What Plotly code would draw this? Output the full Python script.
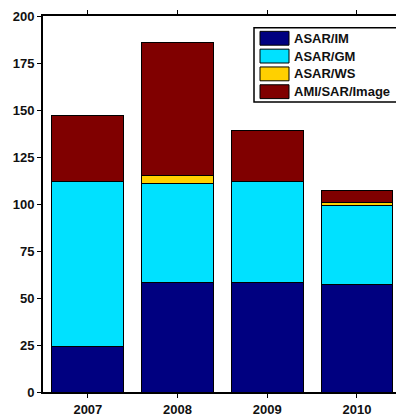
import plotly.graph_objects as go

years = ["2007", "2008", "2009", "2010"]
asar_im = [24, 58, 58, 57]
asar_gm = [88, 53, 54, 42]
asar_ws = [0, 4, 0, 2]
ami_sar_image = [35, 71, 27, 6]

series_names = ["ASAR/IM", "ASAR/GM", "ASAR/WS", "AMI/SAR/Image"]
series_values = [asar_im, asar_gm, asar_ws, ami_sar_image]
series_colors = ["#000080", "#00E1FF", "#FFD000", "#800000"]

y_ticks = [0, 25, 50, 75, 100, 125, 150, 175, 200]

W, H = 396, 417
ML, MR, MT, MB = 43, 0, 16, 21

font = dict(family="Liberation Sans, Arial, sans-serif", size=13, color="#111111", weight="bold")

fig = go.Figure()
for name, vals, col in zip(series_names, series_values, series_colors):
    fig.add_trace(go.Bar(
        x=years, y=vals, name=name, showlegend=False,
        marker=dict(color=col, line=dict(color="black", width=1)),
    ))

# legend box drawn in pixel-based paper coordinates
pw = W - ML - MR
ph = H - MT - MB
def px(x):
    return (x - ML) / pw
def py(y):
    return (H - MB - y) / ph

shapes = [dict(type="rect", xref="paper", yref="paper",
               x0=px(254), x1=px(410), y0=py(103), y1=py(28),
               line=dict(color="black", width=1.5), fillcolor="white", layer="above")]
annotations = []
for i, (name, col) in enumerate(zip(series_names, series_colors)):
    top = 31.5 + 18 * i
    shapes.append(dict(type="rect", xref="paper", yref="paper",
                       x0=px(260), x1=px(289), y0=py(top + 14), y1=py(top),
                       line=dict(color="black", width=1), fillcolor=col, layer="above"))
    annotations.append(dict(xref="paper", yref="paper", x=px(292), y=py(top + 7),
                            text=name, showarrow=False, xanchor="left", yanchor="middle",
                            font=font))

fig.update_layout(
    width=W, height=H,
    margin=dict(l=ML, r=MR, t=MT, b=MB, pad=0),
    paper_bgcolor="white", plot_bgcolor="white",
    barmode="stack", bargap=0.2,
    font=font,
    shapes=shapes, annotations=annotations,
    xaxis=dict(range=[-0.5, -0.5 + pw / 89.7], showline=True, linecolor="black", linewidth=2,
               mirror="ticks", ticks="outside", ticklen=4, tickwidth=1, tickcolor="black",
               showgrid=False, zeroline=False, tickfont=font),
    yaxis=dict(range=[0, 200], tickvals=y_ticks, showline=True, linecolor="black", linewidth=2,
               mirror=False, ticks="outside", ticklen=4, tickwidth=1, tickcolor="black",
               showgrid=False, zeroline=False, tickfont=font),
)

fig.write_html("out.html")
